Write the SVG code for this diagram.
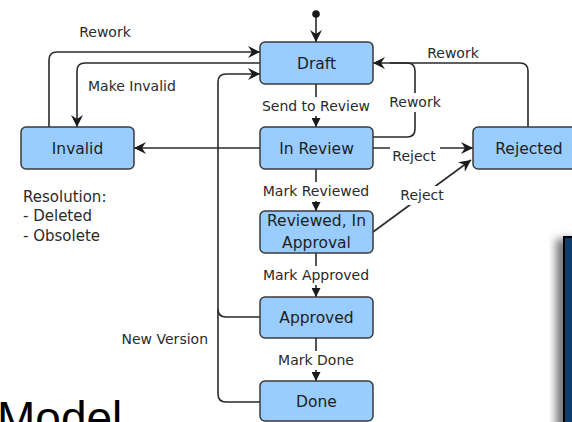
<svg xmlns="http://www.w3.org/2000/svg" width="572" height="422" viewBox="0 0 572 422">
<style>
.node rect{fill:#99ccff;stroke:#3a3a3a;stroke-width:1.5}
.node text{font-family:"DejaVu Sans",sans-serif;font-size:15.5px;fill:#1e1e1e;text-anchor:middle}
.lbl{font-family:"DejaVu Sans",sans-serif;font-size:14px;fill:#2a2a2a}
.c{text-anchor:middle}
.conn path{fill:none;stroke:#2a2a2a;stroke-width:1.6}
.bg{fill:#ffffff}
</style>
<defs>
<marker id="ah" markerUnits="userSpaceOnUse" viewBox="0 0 12 12" refX="12" refY="6" markerWidth="12" markerHeight="12" orient="auto">
<path d="M0,0 L12,6 L0,12 L4,6 z" fill="#1a1a1a"/>
</marker>
<marker id="sm" markerUnits="userSpaceOnUse" viewBox="0 0 9 9" refX="9" refY="4.5" markerWidth="9" markerHeight="9" orient="auto">
<path d="M0,0 L9,4.5 L0,9 z" fill="#1a1a1a"/>
</marker>
<filter id="sh" x="-50%" y="-10%" width="200%" height="120%">
<feDropShadow dx="-7" dy="3" stdDeviation="4" flood-color="#555" flood-opacity="0.8"/>
</filter>
</defs>

<g id="connectors" class="conn">
<path d="M49,127 V60 Q49,52 57,52 H260" marker-end="url(#ah)"/>
<path d="M260,63 H85 Q77,63 77,71 V127" marker-end="url(#ah)"/>
<path d="M260,402 H226 Q218,402 218,394 V82 Q218,74 226,74 H260" marker-end="url(#ah)"/>
<path d="M260,317 H226 Q218,317 218,309"/>
<path d="M260,148 H134" marker-end="url(#ah)"/>
<path d="M373,137 H407 Q415,137 415,129 V71 Q415,63 407,63 H390"/>
<path d="M528,127 V71 Q528,63 520,63 H373" marker-end="url(#ah)"/>
<path d="M373,148 H473" marker-end="url(#ah)"/>
<path d="M373,232 L471,160" marker-end="url(#ah)"/>
<path d="M316,84 V127" marker-end="url(#sm)"/>
<path d="M316,169 V211" marker-end="url(#sm)"/>
<path d="M316,253 V297" marker-end="url(#sm)"/>
<path d="M316,338 V381" marker-end="url(#sm)"/>
<path d="M316,14 V42" marker-end="url(#ah)"/>
<circle cx="316" cy="14" r="3.8" fill="#1a1a1a"/>
<rect class="bg" x="258" y="97" width="116" height="19"/>
<rect class="bg" x="258" y="182" width="116" height="19"/>
<rect class="bg" x="258" y="266" width="116" height="19"/>
<rect class="bg" x="270" y="351" width="92" height="19"/>
<rect class="bg" x="386" y="93" width="58" height="19"/>
<rect class="bg" x="390" y="144" width="50" height="20"/>
<rect class="bg" x="398" y="186" width="48" height="19"/>
<text class="lbl c" x="105" y="37">Rework</text>
<text class="lbl" x="88" y="91">Make Invalid</text>
<text class="lbl c" x="316" y="111">Send to Review</text>
<text class="lbl c" x="453" y="58">Rework</text>
<text class="lbl c" x="415" y="107">Rework</text>
<text class="lbl c" x="414" y="161">Reject</text>
<text class="lbl c" x="422" y="200">Reject</text>
<text class="lbl c" x="316" y="196">Mark Reviewed</text>
<text class="lbl c" x="316" y="280">Mark Approved</text>
<text class="lbl c" x="316" y="365">Mark Done</text>
<text class="lbl" x="208" y="344" text-anchor="end">New Version</text>
</g>

<g id="draft" class="node"><rect x="260" y="42" width="113" height="42" rx="5"/><text x="316.5" y="69">Draft</text></g>
<g id="in-review" class="node"><rect x="260" y="127" width="113" height="42" rx="5"/><text x="316.5" y="154">In Review</text></g>
<g id="reviewed" class="node"><rect x="260" y="211" width="113" height="42" rx="5"/><text x="316.5" y="226">Reviewed, In</text><text x="316.5" y="248">Approval</text></g>
<g id="approved" class="node"><rect x="260" y="297" width="113" height="41" rx="5"/><text x="316.5" y="323">Approved</text></g>
<g id="done" class="node"><rect x="260" y="381" width="113" height="40" rx="5"/><text x="316.5" y="407">Done</text></g>
<g id="invalid" class="node"><rect x="21" y="127" width="113" height="42" rx="5"/><text x="77.5" y="154">Invalid</text></g>
<g id="rejected" class="node"><rect x="473" y="127" width="113" height="42" rx="5"/><text x="529" y="154">Rejected</text></g>

<g id="resolution" class="lbl" style="font-size:15px">
<text x="23" y="202">Resolution:</text>
<text x="23" y="221">- Deleted</text>
<text x="23" y="241">- Obsolete</text>
</g>

<text x="-3" y="434" font-family="'Liberation Sans',Arial,sans-serif" font-size="46" fill="#000">Model</text>

<g id="panel">
<rect x="564" y="237" width="30" height="200" fill="#0d3d6b" stroke="#000" stroke-width="2" filter="url(#sh)"/>
</g>
</svg>
